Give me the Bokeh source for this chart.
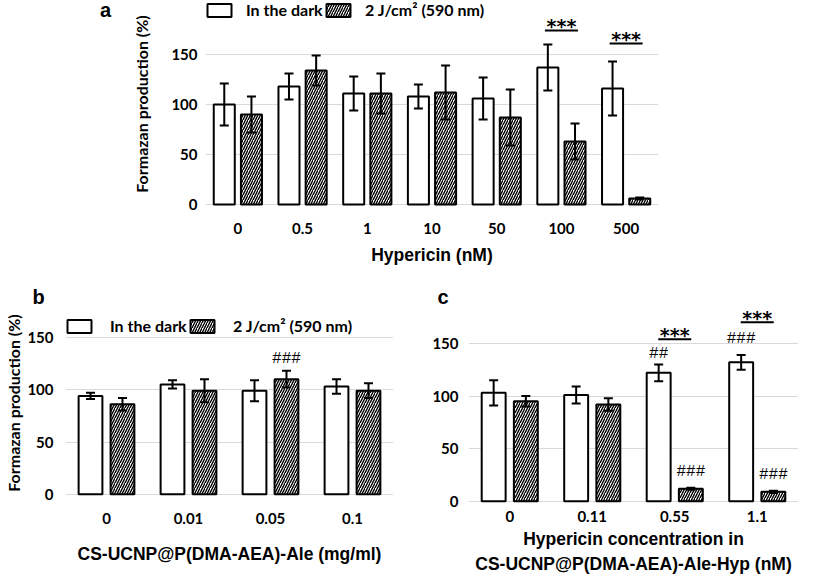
from bokeh.plotting import figure
from bokeh.models import (ColumnDataSource, FactorRange, Range1d, Whisker, Legend,
                          LegendItem, Title, Div, TeeHead)
from bokeh.transform import dodge
from bokeh.layouts import column, row
from bokeh.embed import file_html
from bokeh.resources import INLINE

# ---------------- data ----------------
series_names = ["In the dark", "2 J/cm\u00b2 (590 nm)"]
y_ticks = [0, 50, 100, 150]

cats_a = ["0", "0.5", "1", "10", "50", "100", "500"]
dark_a = [100, 118, 111, 108, 106, 137, 116]
dark_a_err = [21, 13, 17, 12, 21, 23, 27]
light_a = [90, 134, 111, 112, 87, 63, 6]
light_a_err = [18, 15, 20, 27, 28, 18, 1]

cats_b = ["0", "0.01", "0.05", "0.1"]
dark_b = [94, 105, 99, 103]
dark_b_err = [3, 4, 10, 7]
light_b = [86, 99, 110, 99]
light_b_err = [6, 11, 8, 7]

cats_c = ["0", "0.11", "0.55", "1.1"]
dark_c = [103, 101, 122, 132]
dark_c_err = [12, 8, 8, 7]
light_c = [95, 92, 12, 9]
light_c_err = [5, 6, 1, 1]

# significance bars (***) : category, y of the bar
sig_a_cats = ["100", "500"]
sig_a_y = [174, 161]
sig_c_cats = ["0.55", "1.1"]
sig_c_y = [154, 170]

# hash marks
hash_b_cats = ["0.05"]
hash_b_y = [129]
hash_b_text = ["###"]
hash_c_dark_cats = ["0.55", "1.1"]
hash_c_dark_y = [140, 154]
hash_c_dark_text = ["##", "###"]
hash_c_light_cats = ["0.55", "1.1"]
hash_c_light_y = [28, 25]
hash_c_light_text = ["###", "###"]

TICK_FONT = "Lato"
TITLE_FONT = "Liberation Sans"


def make_panel(cats, dark, dark_err, light, light_err, y_end, fw, fh,
               bl, br, bt, bb, bar_w, off, xlabel, ylabel, x_standoff,
               xl_standoff, yl_standoff, y_standoff, xl_size):
    p = figure(x_range=FactorRange(*cats), y_range=Range1d(-3, y_end),
               frame_width=fw, frame_height=fh,
               min_border_left=bl, min_border_right=br,
               min_border_top=bt, min_border_bottom=bb,
               output_backend="svg", toolbar_location=None)
    p.outline_line_color = None
    p.background_fill_color = "white"
    p.border_fill_color = "white"
    src = ColumnDataSource(dict(
        cat=cats, dark=dark, light=light,
        dark_hi=[v + e for v, e in zip(dark, dark_err)],
        dark_lo=[v - e for v, e in zip(dark, dark_err)],
        light_hi=[v + e for v, e in zip(light, light_err)],
        light_lo=[v - e for v, e in zip(light, light_err)],
    ))
    r1 = p.vbar(x=dodge("cat", -off, range=p.x_range), top="dark", bottom=0,
                width=bar_w, fill_color="white", line_color="black",
                line_width=2, source=src)
    r2 = p.vbar(x=dodge("cat", off, range=p.x_range), top="light", bottom=0,
                width=bar_w, fill_color="white", line_color="black",
                line_width=2, hatch_pattern="/", hatch_scale=5,
                hatch_weight=1.4, hatch_color="black", source=src)
    for o, hi, lo in ((-off, "dark_hi", "dark_lo"), (off, "light_hi", "light_lo")):
        w = Whisker(base=dodge("cat", o, range=p.x_range), upper=hi, lower=lo,
                    source=src, line_width=2, line_color="black",
                    level="annotation",
                    upper_head=TeeHead(size=9, line_width=2, line_color="black"),
                    lower_head=TeeHead(size=9, line_width=2, line_color="black"))
        p.add_layout(w)

    p.xgrid.grid_line_color = None
    p.ygrid.ticker = y_ticks
    p.ygrid.grid_line_color = "#d9d9d9"
    p.ygrid.grid_line_width = 1
    p.yaxis.ticker = y_ticks
    for ax in (p.xaxis[0], p.yaxis[0]):
        ax.axis_line_color = None
        ax.major_tick_line_color = None
        ax.minor_tick_line_color = None
        ax.major_tick_out = 0
        ax.major_tick_in = 0
        ax.major_label_text_font = TICK_FONT
        ax.major_label_text_font_style = "bold"
        ax.major_label_text_font_size = "15px"
        ax.major_label_text_color = "black"
        ax.axis_label_text_color = "black"
        ax.axis_label_text_font_style = "bold"
    p.xaxis.major_label_standoff = x_standoff
    p.yaxis.major_label_standoff = y_standoff
    p.xaxis.axis_label = xlabel
    p.xaxis.axis_label_text_font = TITLE_FONT
    p.xaxis.axis_label_text_font_size = xl_size
    p.xaxis.axis_label_standoff = xl_standoff
    p.xaxis.axis_label_text_line_height = 1.25
    if ylabel:
        p.yaxis.axis_label = ylabel
        p.yaxis.axis_label_text_font = TICK_FONT
        p.yaxis.axis_label_text_font_size = "16px"
        p.yaxis.axis_label_standoff = yl_standoff
    return p, r1, r2


LEG_STYLE = dict(orientation="horizontal", glyph_width=30, glyph_height=16,
                 padding=0, margin=0, border_line_color=None,
                 background_fill_alpha=0, label_text_font=TICK_FONT,
                 label_text_font_style="bold", label_text_font_size="16px",
                 label_text_color="black")


def add_legends(p, r1, r2, loc1, loc2, standoff):
    for r, name, loc in ((r1, series_names[0], loc1), (r2, series_names[1], loc2)):
        p.add_layout(Legend(items=[LegendItem(label=name, renderers=[r])],
                            location=loc, label_standoff=standoff, **LEG_STYLE))


def add_sig(p, cats, ys, half, dy):
    src = ColumnDataSource(dict(cat=cats, y=ys, ty=[v + dy for v in ys],
                                t=["***"] * len(cats)))
    p.segment(x0=dodge("cat", -half, range=p.x_range), y0="y",
              x1=dodge("cat", half, range=p.x_range), y1="y",
              line_width=2, line_color="black", source=src)
    p.text(x="cat", y="ty", text="t", source=src, text_align="center",
           text_baseline="alphabetic", text_font={"value": "DejaVu Sans"},
           text_font_style="bold", text_font_size="19px", text_color="black")


def add_hash(p, cats, ys, texts, off):
    src = ColumnDataSource(dict(cat=cats, y=ys, t=texts))
    p.text(x=dodge("cat", off, range=p.x_range), y="y", text="t", source=src,
           text_align="center", text_baseline="middle",
           text_font={"value": "Liberation Mono"}, text_font_size="16px",
           text_color="black")


def panel_title(p, txt, offset):
    p.add_layout(Title(text=txt, align="left", offset=offset, standoff=1,
                       text_font=TITLE_FONT, text_font_style="bold",
                       text_font_size="20px", text_color="black"), "above")


# ---------------- panel a ----------------
pa, ra1, ra2 = make_panel(cats_a, dark_a, dark_a_err, light_a, light_a_err,
                          204, 453, 207, 92, 10, 0, 61, 0.325, 0.21,
                          "Hypericin (nM)", "Formazan production (%)",
                          15, 8, 17, 8, "17.5px")
add_legends(pa, ra1, ra2, (-1, 188), (118, 188), 12)
add_sig(pa, sig_a_cats, sig_a_y, 0.255, 4.5)

div_a = Div(text='<div style="position:absolute; left:100px; top:0px; '
                 'font-family:\'Liberation Sans\'; font-weight:bold; '
                 'font-size:20px; line-height:20px; color:black;">a</div>',
            width=113, height=268, margin=0)

# ---------------- panel b ----------------
pb, rb1, rb2 = make_panel(cats_b, dark_b, dark_b_err, light_b, light_b_err,
                          177.5, 328, 189, 65, 27, 40, 80, 0.29, 0.195,
                          "CS-UCNP@P(DMA-AEA)-Ale (mg/ml)",
                          "Formazan production (%)",
                          15, 17, 1, 12, "17.5px")
add_legends(pb, rb1, rb2, (-1, 162), (122, 162), 16)
add_hash(pb, hash_b_cats, hash_b_y, hash_b_text, 0.195)
panel_title(pb, "b", -33)

# ---------------- panel c ----------------
pc, rc1, rc2 = make_panel(cats_c, dark_c, dark_c_err, light_c, light_c_err,
                          183.1, 330, 196, 48, 19, 40, 73, 0.29, 0.195,
                          "Hypericin concentration in\nCS-UCNP@P(DMA-AEA)-Ale-Hyp (nM)",
                          None, 6, 4, 0, 10, "17.5px")
add_sig(pc, sig_c_cats, sig_c_y, 0.2, 4.3)
add_hash(pc, hash_c_dark_cats, hash_c_dark_y, hash_c_dark_text, -0.195)
add_hash(pc, hash_c_light_cats, hash_c_light_y, hash_c_light_text, 0.195)
panel_title(pc, "c", -31)

layout = column(row(div_a, pa), row(pb, pc))
open("out.html", "w").write(file_html(layout, INLINE))
